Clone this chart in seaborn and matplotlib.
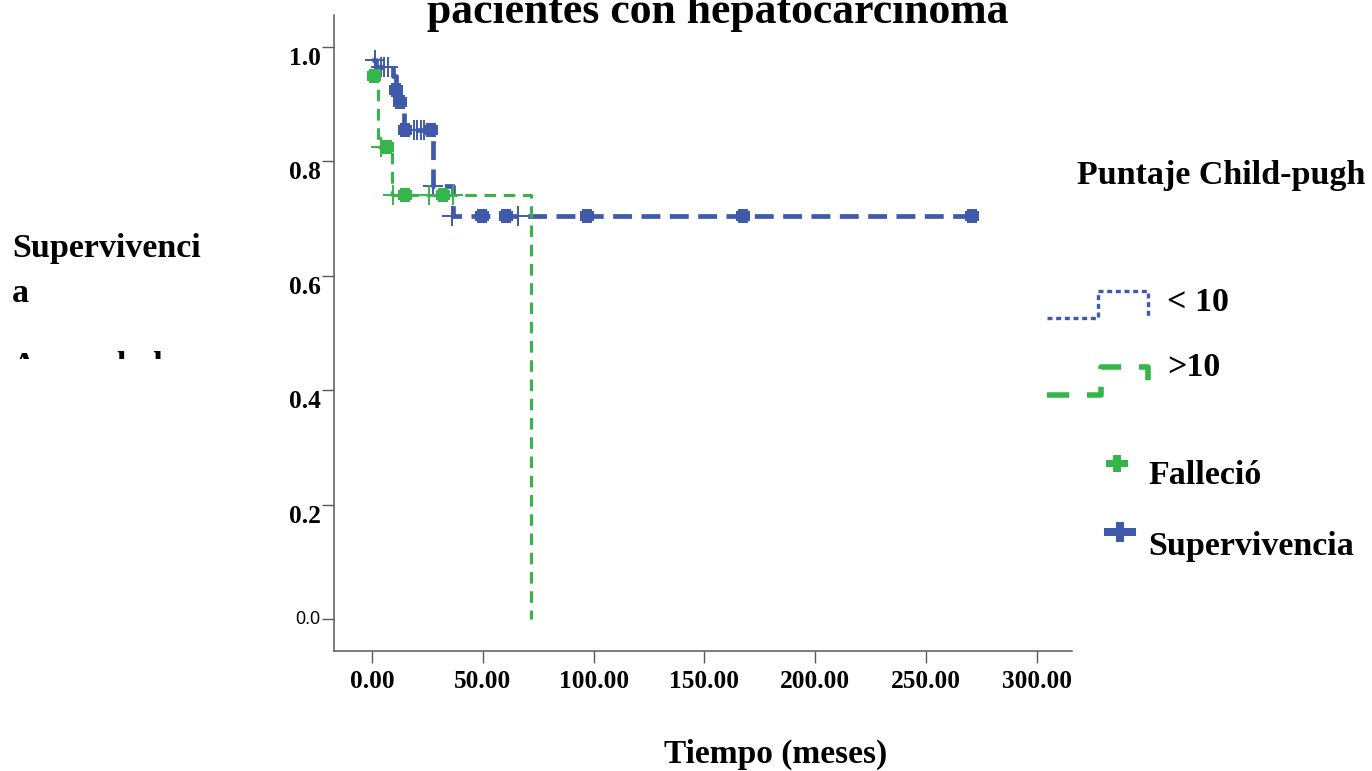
import matplotlib
matplotlib.use("Agg")
import matplotlib.pyplot as plt
import seaborn as sns
from matplotlib.lines import Line2D
from matplotlib.legend_handler import HandlerBase
from matplotlib.path import Path
from matplotlib.transforms import Bbox

# ---------------- data ----------------
blue_times = [0.0, 2.0, 9.5, 11.0, 12.5, 14.6, 27.5, 36.6, 271.0]
blue_surv = [0.977, 0.964, 0.949, 0.924, 0.904, 0.855, 0.757, 0.704, 0.704]
green_times = [0.0, 2.8, 8.9, 71.8]
green_surv = [0.949, 0.824, 0.741, 0.0]

blue_thin_t = [1.2, 4.0, 5.5, 7.0, 19.0, 20.5, 22.0, 23.5, 27.5, 36.0, 66.0]
blue_thin_s = [0.977, 0.964, 0.964, 0.964, 0.855, 0.855, 0.855, 0.855, 0.757, 0.704, 0.704]
blue_bold_t = [10.8, 12.6, 14.9, 26.6, 49.6, 60.5, 97.0, 167.6, 270.8]
blue_bold_s = [0.924, 0.904, 0.855, 0.855, 0.704, 0.704, 0.704, 0.704, 0.704]
green_thin_t = [4.0, 9.5, 25.5, 36.5]
green_thin_s = [0.824, 0.741, 0.741, 0.741]
green_bold_t = [0.9, 6.6, 14.9, 32.2]
green_bold_s = [0.949, 0.824, 0.741, 0.741]

x_ticks = [0, 50, 100, 150, 200, 250, 300]
x_tick_labels = ["0.00", "50.00", "100.00", "150.00", "200.00", "250.00", "300.00"]
y_ticks = [0.0, 0.2, 0.4, 0.6, 0.8, 1.0]
y_tick_labels = ["0.0", "0.2", "0.4", "0.6", "0.8", "1.0"]
group_labels = ["< 10", ">10"]
marker_labels = ["Falleció", "Supervivencia"]
legend_title = "Puntaje Child-pugh"
title_text = "pacientes con hepatocarcinoma"
ylabel_lines = ["Supervivenci", "a", "Acumulada"]
xlabel_text = "Tiempo (meses)"

# ---------------- style ----------------
BLUE = "#3f5aab"
GREEN = "#35b54a"
AXC = "#5a5a5a"
SERIF = ["Liberation Serif", "DejaVu Serif"]

sns.set_style("white")
plt.rcParams["font.family"] = SERIF
plt.rcParams["text.color"] = "black"
plt.rcParams["axes.labelcolor"] = "black"
plt.rcParams["xtick.color"] = AXC
plt.rcParams["ytick.color"] = AXC
plt.rcParams["xtick.labelcolor"] = "black"
plt.rcParams["ytick.labelcolor"] = "black"

W, H = 1372, 771
PX = 72 / 100  # points per pixel
fig = plt.figure(figsize=(W / 100, H / 100), dpi=100)


def fx(px):
    return px / W


def fy(py):
    return 1 - py / H


def plus_path(w, h, tv, th):
    hw, hh, a, b = w / 2, h / 2, tv / 2, th / 2
    verts = [(-a, hh), (a, hh), (a, b), (hw, b), (hw, -b), (a, -b), (a, -hh),
             (-a, -hh), (-a, -b), (-hw, -b), (-hw, b), (-a, b), (-a, hh)]
    codes = [Path.MOVETO] + [Path.LINETO] * (len(verts) - 2) + [Path.CLOSEPOLY]
    return Path(verts, codes)


BLOB = plus_path(14, 14, 9, 9)

ax = fig.add_axes([fx(334), fy(651), fx(1072) - fx(334), fy(15) - fy(651)])

# survival step curves
sns.lineplot(x=blue_times, y=blue_surv, ax=ax, drawstyle="steps-post", color=BLUE,
             linewidth=3.4, linestyle=(0, (4.0, 2.0)), estimator=None, sort=False,
             legend=False, zorder=2)
sns.scatterplot(x=blue_thin_t, y=blue_thin_s, ax=ax, marker="+", s=210, color=BLUE,
                linewidth=1.4, legend=False, zorder=3)
sns.scatterplot(x=blue_bold_t, y=blue_bold_s, ax=ax, marker=BLOB, s=110, color=BLUE,
                linewidth=0, legend=False, zorder=3)

sns.lineplot(x=green_times, y=green_surv, ax=ax, drawstyle="steps-post", color=GREEN,
             linewidth=2.2, linestyle=(0, (3.8, 2.5)), estimator=None, sort=False,
             legend=False, zorder=4)
sns.scatterplot(x=green_thin_t, y=green_thin_s, ax=ax, marker="+", s=210, color=GREEN,
                linewidth=1.4, legend=False, zorder=5)
sns.scatterplot(x=green_bold_t, y=green_bold_s, ax=ax, marker=BLOB, s=110, color=GREEN,
                linewidth=0, legend=False, zorder=5)

ax.set_xlim(-17.15, 315.9)
ax.set_ylim(-0.0554, 1.0554)
sns.despine(ax=ax)
for side in ("left", "bottom"):
    ax.spines[side].set_color(AXC)
    ax.spines[side].set_linewidth(1.1)

ax.tick_params(axis="x", bottom=True, direction="out", length=8.6, width=1.0,
               color=AXC, labelcolor="black", pad=5)
ax.tick_params(axis="y", left=True, direction="out", length=8.6, width=1.0,
               color=AXC, labelcolor="black", pad=1)
ax.set_xticks(x_ticks)
ax.set_xticklabels(x_tick_labels, fontsize=18.3, fontweight="bold", color="black")
ax.set_yticks(y_ticks)
ax.set_yticklabels(y_tick_labels, color="black")
for lab in ax.get_yticklabels():
    if lab.get_text() == "0.0":
        lab.set_fontfamily(["Liberation Sans", "DejaVu Sans"])
        lab.set_fontsize(13)
        lab.set_fontweight("normal")
        lab.set_va("center")
    else:
        lab.set_fontfamily(SERIF)
        lab.set_fontsize(18.3)
        lab.set_fontweight("bold")
        lab.set_va("top")
ax.set_ylabel("")

ax.set_xlabel(xlabel_text, fontsize=24, fontweight="bold", color="black")
ax.xaxis.set_label_coords((776 - 334) / 738, (651 - 763) / 636)
ax.xaxis.label.set_va("baseline")

# title (upper part cut by the figure edge, as in the reference)
fig.text(fx(718), fy(23), title_text, ha="center", va="baseline",
         fontsize=31.5, fontweight="bold", color="black")

# y label, written horizontally and clipped
fig.text(fx(12), fy(257), ylabel_lines[0], ha="left", va="baseline",
         fontsize=24.5, fontweight="bold", color="black")
fig.text(fx(12), fy(302), ylabel_lines[1], ha="left", va="baseline",
         fontsize=24.5, fontweight="bold", color="black")
t3 = fig.text(fx(12), fy(375), ylabel_lines[2], ha="left", va="baseline",
              fontsize=24.5, fontweight="bold", color="black")
t3.set_clip_box(Bbox.from_extents(0, H - 359, 400, H))
t3.set_clip_on(True)

# legend
fig.text(fx(1077), fy(184), legend_title, ha="left", va="baseline",
         fontsize=24.5, fontweight="bold", color="black")


class StepHandler(HandlerBase):
    def __init__(self, dy_px, h_px, tail_px, step_frac=0.5):
        super().__init__()
        self.dy = dy_px * PX
        self.h = h_px * PX
        self.tail = tail_px * PX
        self.frac = step_frac

    def create_artists(self, legend, orig_handle, xdescent, ydescent, width, height,
                       fontsize, trans):
        x0 = -xdescent
        x1 = x0 + width
        xm = x0 + width * self.frac
        cy = -ydescent + height / 2 - self.dy
        lo, hi = cy - self.h / 2, cy + self.h / 2
        line = Line2D([x0, xm, xm, x1, x1], [lo, lo, hi, hi, hi - self.tail])
        line.update_from(orig_handle)
        line.set_transform(trans)
        return [line]


class MarkerHandler(HandlerBase):
    def __init__(self, dy_px):
        super().__init__()
        self.dy = dy_px * PX

    def create_artists(self, legend, orig_handle, xdescent, ydescent, width, height,
                       fontsize, trans):
        cx = -xdescent + width / 2
        cy = -ydescent + height / 2 + self.dy
        m = Line2D([cx], [cy], linestyle="none")
        m.update_from(orig_handle)
        m.set_linestyle("none")
        m.set_transform(trans)
        return [m]


LFS = 24.5


def add_entry(handle, label, left_px, center_px, hlen_px, pad_px, handler):
    fig.legend([handle], [label], loc="center left",
               bbox_to_anchor=(fx(left_px), fy(center_px)), bbox_transform=fig.transFigure,
               frameon=False, borderpad=0, borderaxespad=0,
               handlelength=hlen_px * PX / LFS, handletextpad=pad_px * PX / LFS,
               handleheight=0.7, labelcolor="black",
               prop=dict(family=SERIF, weight="bold", size=LFS),
               handler_map={handle: handler})


h_lt = Line2D([], [], color=BLUE, linewidth=2.4, linestyle=(0, (1.5, 1.1)))
h_gt = Line2D([], [], color=GREEN, linewidth=4.0, linestyle=(0, (4.0, 3.2)))
h_dead = Line2D([], [], color=GREEN, marker=plus_path(22, 17, 8, 7), markersize=22 * PX,
                markeredgewidth=0, linestyle="none")
h_alive = Line2D([], [], color=BLUE, marker=plus_path(32, 20, 8, 8), markersize=32 * PX,
                 markeredgewidth=0, linestyle="none")

add_entry(h_lt, group_labels[0], 1047, 303, 101, 19, StepHandler(5.3, 27, 25))
add_entry(h_gt, group_labels[1], 1047, 367, 101, 19, StepHandler(17, 28, 22, 0.53))
add_entry(h_dead, marker_labels[0], 1097, 475, 40, 11, MarkerHandler(8.3))
add_entry(h_alive, marker_labels[1], 1100, 547, 40, 8, MarkerHandler(11.7))

fig.savefig("out.png", dpi=100)
